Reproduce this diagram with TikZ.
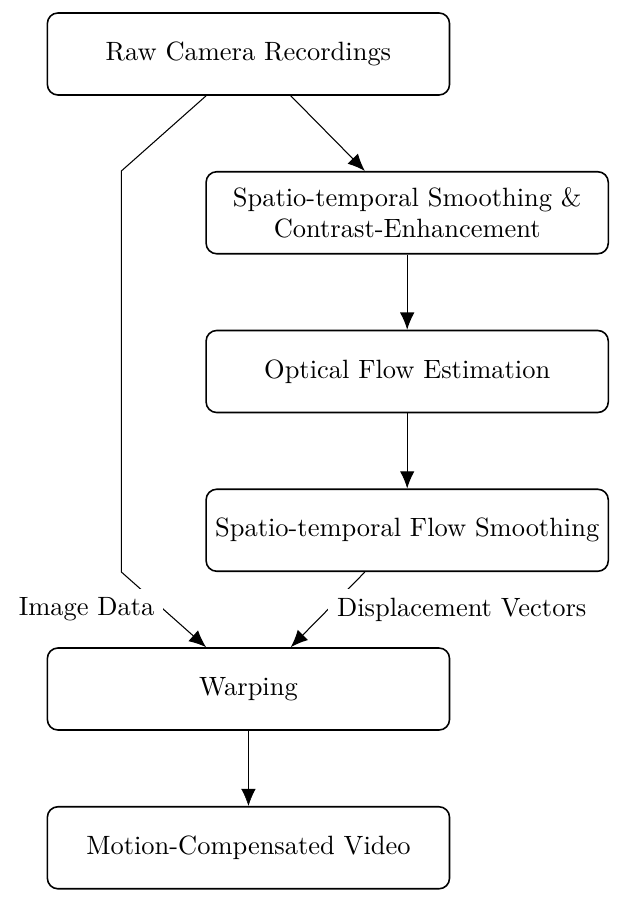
\documentclass[tikz,border=0pt]{standalone}
\usepackage{amssymb,amsmath}
\usetikzlibrary{arrows.meta}

\begin{document}
\begin{tikzpicture}[x=1pt, y=1pt, align=center,
    box/.style={draw, semithick, rounded corners=4pt, minimum width=152pt, minimum height=31pt},
    arr/.style={-{Latex[length=6.5pt,width=5.5pt]}}]
\useasboundingbox (-93.9, 20.4) rectangle (142.7, -320.5);

\node[box] (raw) at (0, 0) {Raw Camera Recordings};
\node[box] (smooth) at (60, -60) {Spatio-temporal Smoothing \&\\ Contrast-Enhancement};
\node[box] (flow) at (60, -120) {Optical Flow Estimation};
\node[box] (flowsmooth) at (60, -180) {Spatio-temporal Flow Smoothing};
\node[box] (warp) at (0, -240) {Warping};
\node[box] (video) at (0, -300) {Motion-Compensated Video};

\path (smooth.north) ++(-108, 0) coordinate (imgtop);
\path (flowsmooth.south) ++(-108, 0) coordinate (imgbot);

\draw[arr] ([xshift=16pt]raw.south) -- ([xshift=-16pt]smooth.north);
\draw[arr] (smooth) -- (flow);
\draw[arr] (flow) -- (flowsmooth);

\draw[arr] ([xshift=-16pt]raw.south) -- (imgtop) -- (imgbot)
    -- node[left, fill=white] {Image Data} ([xshift=-16pt]warp.north);
\draw[arr] ([xshift=-16pt]flowsmooth.south)
    -- node[right, fill=white] {Displacement Vectors} ([xshift=16pt]warp.north);

\draw[arr, line width=0.2pt] (warp) -- (video);
\end{tikzpicture}
\end{document}
